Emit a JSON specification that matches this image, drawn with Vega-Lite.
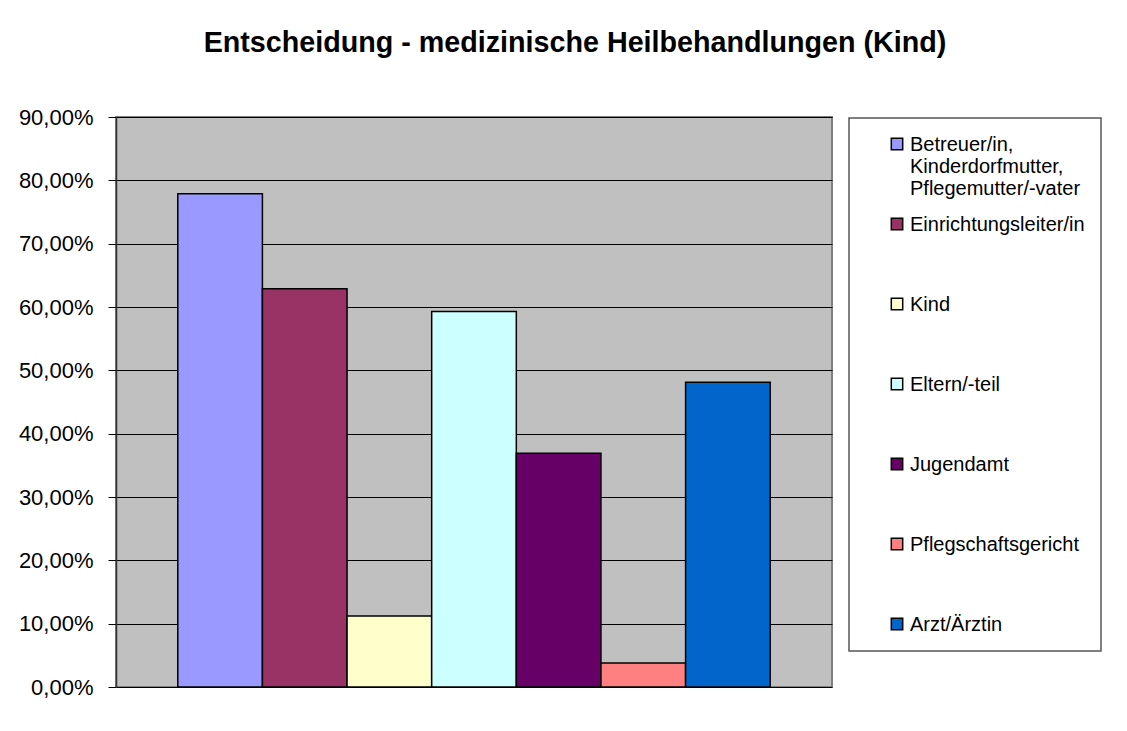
{
  "$schema": "https://vega.github.io/schema/vega-lite/v6.json",
  "autosize": "none",
  "padding": {"left": 116, "top": 117, "right": 295, "bottom": 44},
  "width": 716,
  "height": 570,
  "background": "white",
  "title": {
    "text": "Entscheidung - medizinische Heilbehandlungen (Kind)",
    "font": "Liberation Sans",
    "fontSize": 28.7,
    "fontWeight": "bold",
    "color": "black",
    "anchor": "middle",
    "frame": "group",
    "dx": 101,
    "baseline": "alphabetic",
    "offset": 25
  },
  "data": {
    "values": [
      {"Entscheider": "Betreuer/in, Kinderdorfmutter, Pflegemutter/-vater", "Anteil": 77.9},
      {"Entscheider": "Einrichtungsleiter/in", "Anteil": 62.9},
      {"Entscheider": "Kind", "Anteil": 11.2},
      {"Entscheider": "Eltern/-teil", "Anteil": 59.3},
      {"Entscheider": "Jugendamt", "Anteil": 36.9},
      {"Entscheider": "Pflegschaftsgericht", "Anteil": 3.8},
      {"Entscheider": "Arzt/Ärztin", "Anteil": 48.1}
    ]
  },
  "mark": {"type": "bar", "stroke": "black", "strokeWidth": 1.5},
  "encoding": {
    "x": {
      "field": "Entscheider",
      "type": "nominal",
      "sort": null,
      "axis": null,
      "scale": {"paddingInner": 0, "paddingOuter": 0.73}
    },
    "y": {
      "field": "Anteil",
      "type": "quantitative",
      "scale": {"domain": [0, 90], "nice": false},
      "axis": {
        "title": null,
        "values": [0, 10, 20, 30, 40, 50, 60, 70, 80, 90],
        "labelExpr": "replace(format(datum.value, '.2f'), '.', ',') + '%'",
        "labelFont": "Liberation Sans",
        "labelFontSize": 22,
        "labelColor": "black",
        "labelPadding": 15,
        "tickSize": 8,
        "tickColor": "black",
        "domainColor": "#333333",
        "domainWidth": 1.5,
        "grid": true,
        "gridColor": "black",
        "gridWidth": 1,
        "gridOpacity": 1
      }
    },
    "color": {
      "field": "Entscheider",
      "type": "nominal",
      "sort": null,
      "scale": {
        "domain": ["Betreuer/in, Kinderdorfmutter, Pflegemutter/-vater", "Einrichtungsleiter/in", "Kind", "Eltern/-teil", "Jugendamt", "Pflegschaftsgericht", "Arzt/Ärztin"],
        "range": ["#9999FF", "#993366", "#FFFFCC", "#CCFFFF", "#660066", "#FF8080", "#0066CC"]
      },
      "legend": {
        "title": null,
        "orient": "none",
        "legendX": 733,
        "legendY": 1,
        "direction": "vertical",
        "padding": 16,
        "fillColor": "white",
        "strokeColor": "#555555",
        "symbolType": "square",
        "symbolSize": 130,
        "symbolStrokeColor": "black",
        "symbolStrokeWidth": 1.5,
        "symbolOffset": 22,
        "labelOffset": 3,
        "labelFont": "Liberation Sans",
        "labelFontSize": 20,
        "labelColor": "black",
        "labelLimit": 400,
        "labelBaseline": "alphabetic",
        "labelLineHeight": 26,
        "labelExpr": "split(datum.label, ' ')",
        "rowPadding": 15,
        "gridAlign": "all",
        "encode": {
          "legend": {"update": {"strokeWidth": {"value": 1.5}}},
          "labels": {"update": {"dy": {"value": 7}}}
        }
      }
    }
  },
  "config": {
    "view": {"fill": "#C0C0C0", "stroke": "#808080", "strokeWidth": 2}
  }
}
